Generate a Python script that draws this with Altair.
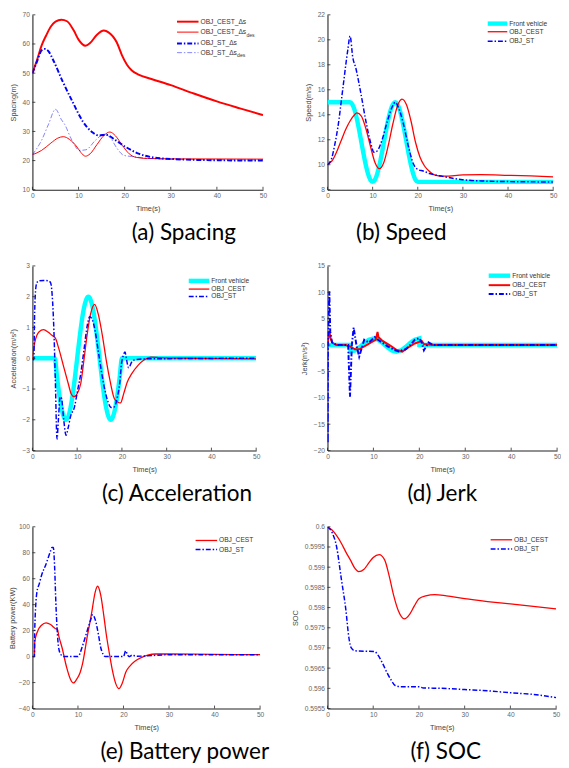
import altair as alt
import pandas as pd

# ------------------------------------------------------------------ data
X_TICKS = [0, 10, 20, 30, 40, 50]

# (a) Spacing
a_t_cest = [0, 1, 2, 3, 4, 5, 6.3, 7.5, 9, 10, 11.5, 12.5, 14, 15.5, 16.5, 18.3, 19.4, 20.5, 21.5, 23, 25.8, 30, 35, 40, 45, 50]
a_cest = [50, 54.5, 59.5, 63, 66, 67.7, 68.3, 67.8, 64.5, 61.5, 59.4, 60.3, 63.2, 64.6, 64.0, 60.5, 56.2, 52.9, 51, 49.5, 48, 45.9, 43, 40.3, 37.9, 35.6]
a_t_cest_des = [0, 2, 4, 5.5, 6.7, 8, 9.5, 10.5, 11.5, 12.5, 14, 15.5, 16.8, 18, 19.5, 21, 22.5, 25, 30, 50]
a_cest_des = [22, 23.5, 26, 27.7, 28.2, 27.3, 25, 22.8, 21.5, 22.3, 25.5, 28.6, 29.8, 28.5, 25.2, 22.3, 21.1, 20.7, 20.6, 20.5]
a_t_st = [0, 1, 2, 2.7, 3.5, 4.5, 6.6, 8.75, 10.9, 13, 14.4, 15.9, 18, 20.1, 23, 26.5, 30.8, 40, 50]
a_st = [50, 54, 57.8, 58.3, 57.5, 54.5, 47, 40, 33.5, 29.7, 28.6, 28.9, 27, 24.8, 22.4, 21, 20.5, 20.1, 20]
a_t_st_des = [0, 2, 3.5, 5, 6.3, 7, 8.4, 10.2, 11.6, 13.7, 15.5, 16.9, 18.3, 19.8, 21.5, 25, 30, 50]
a_st_des = [22, 27, 32.5, 37.6, 34, 32.4, 27.5, 23.5, 23.7, 27, 29, 27.8, 24.3, 21.8, 21.4, 20.8, 20.4, 20.2]
a_yticks = [10, 20, 30, 40, 50, 60, 70]

# (b) Speed
b_t_front = [0, 5, 5.5, 6, 6.5, 7, 7.5, 8, 8.5, 9, 9.5, 10, 10.5, 11, 11.5, 12, 12.5, 13, 13.5, 14, 14.5, 15, 15.5, 16, 16.5, 17, 17.5, 18, 18.5, 19, 19.5, 20, 50]
b_front = [15, 15, 14.84, 14.39, 13.69, 12.8, 11.82, 10.84, 9.95, 9.25, 8.79, 8.63, 8.79, 9.25, 9.95, 10.84, 11.82, 12.8, 13.69, 14.39, 14.84, 15, 14.84, 14.39, 13.69, 12.8, 11.82, 10.84, 9.95, 9.25, 8.79, 8.63, 8.63]
b_t_cest = [0, 1, 2, 3, 4, 5, 6, 6.5, 7.5, 8.5, 9.5, 10.5, 11.5, 12.5, 13.5, 14.5, 15.5, 16.5, 17.5, 18.5, 19.5, 20.5, 21.5, 22.5, 24, 26, 30, 34, 40, 45, 50]
b_cest = [10, 10.3, 11, 11.9, 12.8, 13.5, 14.0, 14.15, 13.9, 12.9, 11.5, 10.2, 9.68, 10.2, 11.6, 13.3, 14.7, 15.25, 14.8, 13.5, 11.8, 10.6, 9.9, 9.5, 9.15, 9.08, 9.18, 9.2, 9.15, 9.1, 9.03]
b_t_st = [0, 1, 1.5, 2.3, 3.4, 4.5, 5, 5.6, 6.3, 7.4, 8.5, 9.6, 10.3, 11, 12.1, 13.2, 14.3, 15, 15.7, 16.8, 17.9, 19, 20.1, 21.2, 22.6, 25.5, 29.9, 34.2, 40, 50]
b_st = [10, 10.6, 11.4, 13, 16.1, 19.2, 20.3, 18.6, 17.7, 15.7, 13.5, 11.7, 11, 11.1, 12, 13.4, 14.6, 15, 14.6, 13.3, 11.5, 10.1, 9.6, 9.5, 9.3, 9.07, 8.8, 8.7, 8.65, 8.62]
b_yticks = [8, 10, 12, 14, 16, 18, 20, 22]

# (c) Acceleration
c_t_front = [0, 5, 5.5, 6, 6.5, 7, 7.5, 8, 8.5, 9, 9.5, 10, 10.5, 11, 11.5, 12, 12.5, 13, 13.5, 14, 14.5, 15, 15.5, 16, 16.5, 17, 17.5, 18, 18.5, 19, 19.5, 20, 50]
c_front = [0, 0, -0.62, -1.18, -1.62, -1.9, -2, -1.9, -1.62, -1.18, -0.62, 0, 0.62, 1.18, 1.62, 1.9, 2, 1.9, 1.62, 1.18, 0.62, 0, -0.62, -1.18, -1.62, -1.9, -2, -1.9, -1.62, -1.18, -0.62, 0, 0]
c_t_cest = [0, 0.5, 1, 1.5, 2.5, 3.5, 4.4, 5.1, 5.8, 6.9, 8, 8.7, 9.3, 10, 10.8, 11.5, 12.25, 13, 13.9, 14.7, 15.7, 16.5, 17.4, 18.3, 19, 19.7, 20.4, 21.2, 22.2, 23.6, 25, 26.5, 28.6, 35, 50]
c_cest = [-0.05, 0.5, 0.75, 0.86, 0.93, 0.85, 0.74, 0.66, 0.36, -0.23, -0.82, -1.17, -1.25, -1.15, -0.82, -0.07, 0.79, 1.44, 1.75, 1.44, 0.68, -0.07, -0.77, -1.31, -1.42, -1.45, -1.15, -0.77, -0.5, -0.23, -0.05, 0.04, 0.02, 0, -0.02]
c_t_st = [0, 0.3, 0.5, 0.7, 1, 1.5, 2.5, 3.5, 4.05, 4.4, 4.8, 5.1, 5.5, 5.8, 6.2, 6.5, 7, 7.5, 8, 8.5, 9.4, 10.1, 10.8, 11.5, 12.25, 12.8, 13.3, 14, 14.7, 15.5, 16.2, 16.9, 17.6, 18.3, 19, 19.5, 19.9, 20.3, 20.7, 21, 21.5, 22.2, 22.9, 25, 50]
c_st = [-0.05, -0.05, 1.5, 2.2, 2.46, 2.52, 2.53, 2.52, 2.46, 2.08, 0.9, -0.6, -2.62, -2.0, -1.25, -1.3, -2.0, -2.5, -2.25, -1.9, -1.58, -1.04, -0.5, 0.25, 1.06, 1.35, 1.28, 0.9, 0.25, -0.5, -1.04, -1.42, -1.6, -1.58, -1.25, -0.82, -0.18, 0.09, 0.2, -0.02, -0.31, -0.12, -0.05, -0.02, 0]
c_yticks = [-3, -2, -1, 0, 1, 2, 3]

# (d) Jerk
d_t_front = [0, 4.99, 5, 6, 7, 7.5, 8, 9, 10, 11, 12, 12.5, 13, 14, 15, 16, 17, 17.5, 18, 19, 20, 20.01, 50]
d_front = [0, 0, -1.26, -1.02, -0.39, 0, 0.39, 1.02, 1.26, 1.02, 0.39, 0, -0.39, -1.02, -1.26, -1.02, -0.39, 0, 0.39, 1.02, 1.26, 0, 0]
d_t_cest = [0, 0.2, 0.4, 0.7, 1, 1.5, 2, 4, 5, 6, 7, 7.5, 8.5, 9.5, 10.5, 10.9, 11.1, 11.5, 12, 13.5, 15, 16.3, 17.5, 19, 20, 20.5, 21, 22, 23, 50]
d_cest = [0, 1.5, 2.6, 1.2, 0.5, 0.2, 0, 0, -0.3, -0.8, -0.8, -0.5, 0, 0.5, 1, 2.5, 1.5, 1.2, 0.8, 0, -0.9, -1.25, -0.5, 0.3, 0.6, 0.8, 0.2, 0.1, 0, 0]
d_t_st = [0, 0.05, 0.1, 0.4, 0.6, 1, 2, 4.5, 4.7, 4.9, 5.1, 5.3, 5.7, 6.3, 6.9, 8, 9, 10.3, 11, 12, 13, 14.5, 15.5, 17, 18, 19, 20, 20.5, 21, 22, 23, 50]
d_st = [0, -18.6, 0, 10.2, 2.5, 0.5, 0, 0, -5, -9.8, -5, 0, 3.3, 0, -2.2, 1, 0.5, 1.5, 1, 0.4, -0.2, -0.9, -1.2, -0.8, 0, 1, 1.3, 0.5, -1, 0.5, 0, 0]
d_yticks = [-20, -15, -10, -5, 0, 5, 10, 15]

# (e) Battery power
e_t_cest = [0, 0.45, 0.5, 1, 2, 3, 4, 5, 5.5, 5.8, 6.5, 7.5, 8.3, 9, 9.8, 10.5, 11, 12, 13, 13.8, 14.3, 15, 15.7, 16.2, 16.8, 17.5, 18.3, 19, 19.7, 20.5, 21.5, 22.5, 24, 25.5, 27, 30, 40, 50]
e_cest = [0, 0, 10.9, 18.4, 24.2, 26, 24.7, 21.7, 21, 15.8, 7, -8.1, -17, -20.3, -17, -12, -5.6, 14.6, 33.5, 49.9, 54.2, 47.4, 31, 17.6, 4.5, -9.4, -20.8, -24.7, -20.8, -12, -6.9, -3.6, -0.6, 1.4, 2, 2, 1.7, 1.5]
e_t_st = [0, 0.45, 0.5, 1, 1.5, 2, 3, 4, 4.3, 4.6, 4.8, 5.2, 5.6, 6, 6.5, 7, 10, 11, 12, 12.8, 13.2, 13.8, 14.5, 15, 15.5, 16, 20, 20.5, 20.8, 21.2, 22, 22.5, 23, 30, 50]
e_st = [0, 0, 20, 50, 56, 62.5, 71.4, 81.5, 84, 84, 75, 37, 12, 3.2, 0.7, 0, 0, 8.3, 19.6, 28.4, 32.3, 28.4, 17, 7, 2, 0, 0, 4.5, 2, 0, 1.2, 0.5, 0.3, 1.4, 1.4]
e_yticks = [-40, -20, 0, 20, 40, 60, 80, 100]

# (f) SOC
f_t_cest = [0, 1, 2, 3, 4, 5, 6, 6.8, 8, 9, 10, 11.3, 12.5, 13.5, 14.5, 15.5, 16.8, 18, 19, 20, 21.5, 23.5, 26, 30, 35, 40, 45, 50]
f_cest = [0.6, 0.59992, 0.59978, 0.5996, 0.59938, 0.59918, 0.59897, 0.59889, 0.59895, 0.5991, 0.59924, 0.59931, 0.59918, 0.59878, 0.59829, 0.59792, 0.59772, 0.59784, 0.59804, 0.59822, 0.59829, 0.59832, 0.59829, 0.59822, 0.59815, 0.59809, 0.59803, 0.59797]
f_t_st = [0, 1, 2, 3, 4, 4.7, 5.2, 6, 10.3, 11, 12, 13, 14, 14.8, 16, 20, 21, 25, 30, 35, 40, 45, 50]
f_st = [0.6, 0.59986, 0.5995, 0.59873, 0.59796, 0.59724, 0.597, 0.59693, 0.59691, 0.59683, 0.59663, 0.59639, 0.59619, 0.59607, 0.59604, 0.59604, 0.59601, 0.596, 0.59597, 0.59594, 0.59589, 0.59585, 0.59577]
f_yticks = [0.5955, 0.596, 0.5965, 0.597, 0.5975, 0.598, 0.5985, 0.599, 0.5995, 0.6]

# ------------------------------------------------------------------ style
FONT = "Liberation Sans"
RED = "#ff0000"
BLUE = "#0000ff"
CYAN = "#00ffff"
DASHDOT = [5, 2, 1.5, 2]
AXC = "#222222"
ONE = pd.DataFrame({"k": [0]})

AX = dict(tickSize=0, labelFont=FONT, labelFontSize=6.8, labelColor="#666666",
          labelPadding=3, titleFont=FONT, titleFontSize=7.5, titleFontWeight="normal",
          titleColor="#444444", domainColor=AXC, domainWidth=1.1, grid=False,
          labelOverlap=False, labelFlush=False)


def line(t, v, xs, ys, color, width, dash, opacity, interp, xaxis, yaxis):
    kw = dict(color=color, strokeWidth=width, opacity=opacity, interpolate=interp, clip=True)
    if dash:
        kw["strokeDash"] = dash
    return alt.Chart(pd.DataFrame({"t": t, "v": v})).mark_line(**kw).encode(
        x=alt.X("t:Q", scale=xs, axis=xaxis),
        y=alt.Y("v:Q", scale=ys, axis=yaxis),
    )


def panel(series, ydom, yticks, ytitle, caption, cdx, W, H, legend, lx1, lx2, lxl, rows,
          ytp=4.5, yfmt=None, interp="monotone"):
    xs = alt.Scale(domain=[0, 50], nice=False, zero=False)
    ys = alt.Scale(domain=ydom, nice=False, zero=False)
    xaxis = alt.Axis(values=X_TICKS, title="Time(s)", titlePadding=5.5, **AX)
    ykw = dict(values=yticks, title=ytitle, titlePadding=ytp, **AX)
    if yfmt:
        ykw["labelExpr"] = yfmt
    yaxis = alt.Axis(**ykw)

    layers = []
    for s in series:
        t, v, color, width, dash, op = s
        layers.append(line(t, v, xs, ys, color, width, dash, op, interp, xaxis, yaxis))
    # inward ticks
    layers.append(alt.Chart(pd.DataFrame({"t": X_TICKS})).mark_rule(color=AXC, strokeWidth=0.8).encode(
        x=alt.X("t:Q", scale=xs, axis=xaxis), y=alt.value(H), y2=alt.value(H - 3)))
    layers.append(alt.Chart(pd.DataFrame({"v": yticks})).mark_rule(color=AXC, strokeWidth=0.8).encode(
        y=alt.Y("v:Q", scale=ys, axis=yaxis), x=alt.value(0), x2=alt.value(3)))
    # legend
    for (label, sub, subdx, color, width, dash, op), ry in zip(legend, rows):
        rkw = dict(color=color, strokeWidth=width, opacity=op)
        if dash:
            rkw["strokeDash"] = dash
        layers.append(alt.Chart(ONE).mark_rule(**rkw).encode(
            x=alt.value(lx1), x2=alt.value(lx2), y=alt.value(ry)))
        layers.append(alt.Chart(ONE).mark_text(align="left", baseline="middle", font=FONT,
                                               fontSize=6.8, color="#333333").encode(
            x=alt.value(lxl), y=alt.value(ry), text=alt.value(label)))
        if sub:
            layers.append(alt.Chart(ONE).mark_text(align="left", baseline="middle", font=FONT,
                                                   fontSize=5.2, color="#333333").encode(
                x=alt.value(lxl + subdx), y=alt.value(ry + 2.6), text=alt.value(sub)))
    return alt.layer(*layers).properties(
        width=W, height=H,
        title=alt.TitleParams(caption, orient="bottom", anchor="middle", frame="group",
                              font="Lato", fontSize=23, fontWeight="normal", color="#000000",
                              dx=cdx, offset=11),
    )


FV = ("Front vehicle", None, 0, CYAN, 4.5, None, 1.0)
CE = ("OBJ_CEST", None, 0, RED, 1.3, None, 1.0)
ST = ("OBJ_ST", None, 0, BLUE, 1.5, DASHDOT, 1.0)

pa = panel(
    [(a_t_cest, a_cest, RED, 2, None, 1.0),
     (a_t_cest_des, a_cest_des, RED, 1, None, 1.0),
     (a_t_st, a_st, BLUE, 2, DASHDOT, 1.0),
     (a_t_st_des, a_st_des, BLUE, 0.9, DASHDOT, 0.55)],
    [10, 70], a_yticks, "Spacing(m)", "(a) Spacing", 37, 236, 179,
    [("OBJ_CEST_\u0394s", None, 0, RED, 2, None, 1.0),
     ("OBJ_CEST_\u0394s", "des", 47, RED, 1, None, 1.0),
     ("OBJ_ST_\u0394s", None, 0, BLUE, 2, DASHDOT, 1.0),
     ("OBJ_ST_\u0394s", "des", 37.5, BLUE, 0.9, DASHDOT, 0.55)],
    148, 170, 172, [7, 17.7, 29.3, 38.7])

pb = panel(
    [(b_t_front, b_front, CYAN, 4.5, None, 1.0),
     (b_t_cest, b_cest, RED, 1.3, None, 1.0),
     (b_t_st, b_st, BLUE, 1.5, DASHDOT, 1.0)],
    [8, 22], b_yticks, "Speed(m/s)", "(b) Speed", -40, 231, 179,
    [FV, CE, ST], 164, 184, 186, [9, 17.3, 27])

pc = panel(
    [(c_t_front, c_front, CYAN, 4.5, None, 1.0),
     (c_t_cest, c_cest, RED, 1.3, None, 1.0),
     (c_t_st, c_st, BLUE, 1.5, DASHDOT, 1.0)],
    [-3, 3], c_yticks, "Acceleration(m/s\u00b2)", "(c) Acceleration", 33.5, 229, 189,
    [FV, CE, ST], 160, 181, 183, [15.3, 23.7, 31.3])

pd_ = panel(
    [(d_t_front, d_front, CYAN, 4.5, None, 1.0),
     (d_t_cest, d_cest, RED, 2, None, 1.0),
     (d_t_st, d_st, BLUE, 2, DASHDOT, 1.0)],
    [-20, 15], d_yticks, "Jerk(m/s\u00b3)", "(d) Jerk", 0, 235, 189,
    [FV, ("OBJ_CEST", None, 0, RED, 2, None, 1.0), ("OBJ_ST", None, 0, BLUE, 2, DASHDOT, 1.0)],
    165, 187, 189, [10, 19.7, 28.7], interp="linear")

pe = panel(
    [(e_t_cest, e_cest, RED, 1.3, None, 1.0),
     (e_t_st, e_st, BLUE, 1.5, DASHDOT, 1.0)],
    [-40, 100], e_yticks, "Battery power(KW)", "(e) Battery power", 39.5, 233, 186,
    [CE, ST], 167, 189, 191, [14, 23.3], ytp=1.5)

pf = panel(
    [(f_t_cest, f_cest, RED, 1.3, None, 1.0),
     (f_t_st, f_st, BLUE, 1.5, DASHDOT, 1.0)],
    [0.5955, 0.6], f_yticks, "SOC", "(f) SOC", 4, 234, 186,
    [CE, ST], 167, 189, 191, [13.3, 22.7], yfmt="format(datum.value, '.4~f')")

chart = alt.concat(
    pa, pb, pc, pd_, pe, pf, columns=2,
    spacing={"row": 78, "column": 66}, bounds="flush", align="each",
).properties(
    padding={"left": 0, "top": -5, "right": 0, "bottom": 0},
    background="white",
).configure_view(stroke=None)

chart.save("out.html", embed_options={"renderer": "svg", "actions": False})
